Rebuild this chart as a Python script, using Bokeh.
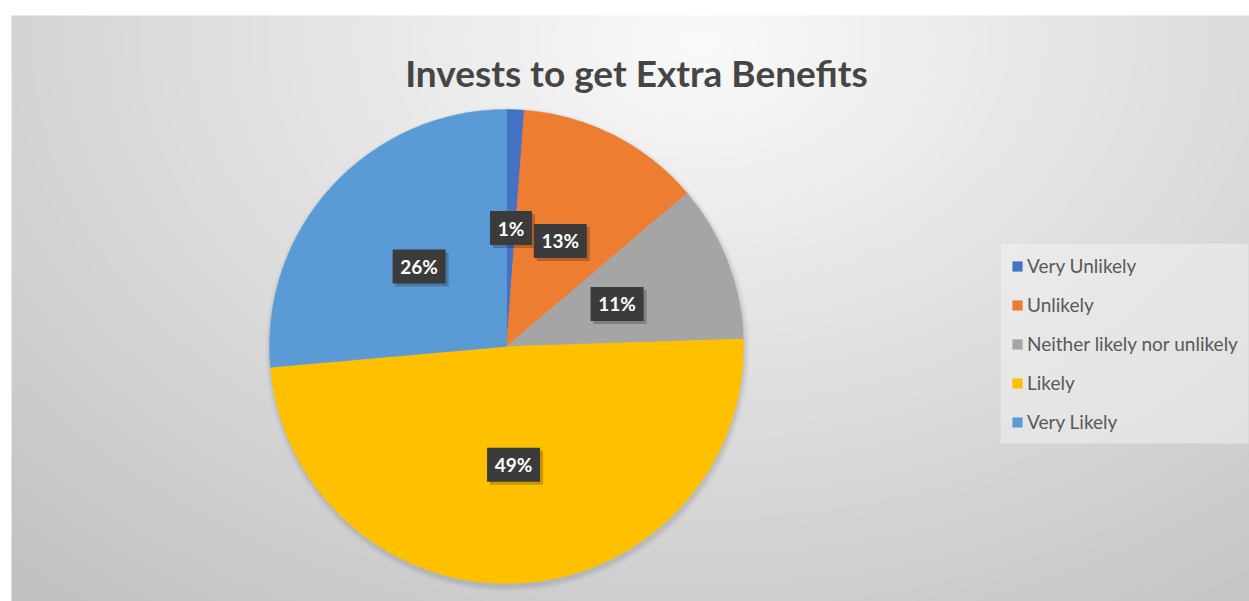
import numpy as np
from bokeh.plotting import figure
from bokeh.models import ColumnDataSource, Legend, LegendItem
from bokeh.core.properties import value
from bokeh.embed import file_html
from bokeh.resources import INLINE

# ---- data ----
categories = ["Very Unlikely", "Unlikely", "Neither likely nor unlikely", "Likely", "Very Likely"]
shares = [1.2, 12.6, 10.7, 49.1, 26.4]
colors = ["#4472C4", "#ED7D31", "#A5A5A5", "#FFC000", "#5B9BD5"]
title_text = "Invests to get Extra Benefits"

# ---- layout constants ----
W, H = 1249, 601
cx, cy, R = 506, H - 346, 237

p = figure(width=W, height=H, x_range=(0, W), y_range=(0, H),
           output_backend="svg", toolbar_location=None, min_border=0,
           x_axis_location=None, y_axis_location=None)
p.xgrid.visible = False
p.ygrid.visible = False
p.outline_line_color = None
p.background_fill_color = "white"
p.border_fill_color = "white"

# background radial gradient (chart area)
gw, gh = 620, 293
bx0, bw_, bh_ = 11, W - 11, 586
xs = np.linspace(bx0, W, gw)
ys = np.linspace(0, bh_, gh)
X, Y = np.meshgrid(xs, ys)
SY = H - Y
d = np.sqrt(((X - 700) / 1.4) ** 2 + (SY - 40) ** 2)
v = np.clip(250 - 58 * d / 750, 186, 250).astype(np.uint8)
img = np.empty((gh, gw), dtype=np.uint32)
view = img.view(dtype=np.uint8).reshape((gh, gw, 4))
view[..., 0] = v
view[..., 1] = v
view[..., 2] = v
view[..., 3] = 255
p.image_rgba(image=[img], x=bx0, y=0, dw=bw_, dh=bh_)

# pie geometry from data
tot = float(sum(shares))
cum = np.concatenate([[0.0], np.cumsum(shares)]) / tot
start = np.pi / 2 - 2 * np.pi * cum[:-1]
end = np.pi / 2 - 2 * np.pi * cum[1:]
mid = (start + end) / 2
lx = cx + 0.5 * R * np.cos(mid)
ly = cy + 0.5 * R * np.sin(mid)
labels = [f"{round(s / tot * 100)}%" for s in shares]
bw = [20 + 11 * len(t) for t in labels]

src = ColumnDataSource(dict(cat=categories, share=shares, color=colors,
                            start=start, end=end, lx=lx, ly=ly,
                            sx=lx + 3, sy=ly - 3, label=labels, bw=bw))

# soft shadow of the pie
for k, a in [(1, 0.05), (3, 0.04), (5, 0.03)]:
    p.circle(x=[cx + 1], y=[cy - 3], radius=R + k, fill_color="black",
             fill_alpha=a, line_color=None)

r = p.wedge(x=cx, y=cy, radius=R, start_angle="start", end_angle="end",
            direction="clock", fill_color="color", line_color="color",
            line_width=0.5, source=src)

# data labels
p.rect(x="sx", y="sy", width="bw", height=34, fill_color="black",
       fill_alpha=0.22, line_color=None, source=src)
p.rect(x="lx", y="ly", width="bw", height=34, fill_color="#3b3b3b",
       line_color=None, source=src)
p.text(x="lx", y="ly", text="label", text_color="white",
       text_font=value("Lato"), text_font_style="bold", text_font_size="19px",
       text_align="center", text_baseline="middle", source=src)

# title
p.text(x=[636], y=[H - 72], text=[title_text], text_color="#454545",
       text_font=value("Lato"), text_font_style="bold", text_font_size="37px",
       text_align="center", text_baseline="alphabetic")

# legend
items = [LegendItem(label=c, renderers=[r], index=i) for i, c in enumerate(categories)]
legend = Legend(items=items, location=(1000, 157), orientation="vertical",
                label_text_font="Lato", label_text_font_size="19px",
                label_text_color="#595959", glyph_width=12, glyph_height=12,
                label_height=22, spacing=16, padding=10, label_standoff=4,
                background_fill_color="#f4f4f4", background_fill_alpha=0.5,
                border_line_color="#d0d0d0", border_line_alpha=0.4, margin=0)
p.add_layout(legend)

open("out.html", "w").write(file_html(p, INLINE))
